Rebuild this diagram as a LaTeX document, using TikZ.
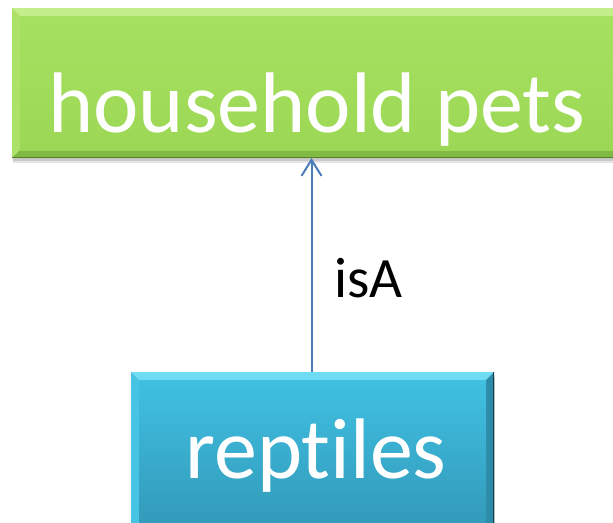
\documentclass[tikz,border=0pt]{standalone}
\usepackage{fontspec}
\setmainfont{Carlito}[Ligatures=NoCommon]
\usetikzlibrary{arrows.meta}
\definecolor{gIn1}{RGB}{166,224,96}
\definecolor{gIn2}{RGB}{156,216,86}
\definecolor{gTop}{RGB}{196,238,140}
\definecolor{gLeft}{RGB}{172,226,104}
\definecolor{gBot}{RGB}{128,186,66}
\definecolor{gRight}{RGB}{142,200,78}
\definecolor{bIn1}{RGB}{64,192,226}
\definecolor{bIn2}{RGB}{50,152,184}
\definecolor{bTop}{RGB}{110,220,242}
\definecolor{bLeft}{RGB}{70,196,228}
\definecolor{bBot}{RGB}{40,128,156}
\definecolor{bRight}{RGB}{46,140,170}
\definecolor{arrowblue}{RGB}{74,126,187}
\tikzset{
  bevelbox/.style n args={6}{
    inner sep=0pt, outer sep=0pt,
    preaction={fill=black, fill opacity=0.10, transform canvas={xshift=1pt,yshift=-5pt}},
    preaction={fill=black, fill opacity=0.12, transform canvas={xshift=0.5pt,yshift=-2.5pt}},
    path picture={
      \path (path picture bounding box.north west) coordinate (bnw)
            (path picture bounding box.north east) coordinate (bne)
            (path picture bounding box.south west) coordinate (bsw)
            (path picture bounding box.south east) coordinate (bse);
      \path ([shift={(8pt,-8pt)}]bnw) coordinate (inw)
            ([shift={(-8pt,-8pt)}]bne) coordinate (ine)
            ([shift={(8pt,8pt)}]bsw) coordinate (isw)
            ([shift={(-8pt,8pt)}]bse) coordinate (ise);
      \fill[#3] (bnw) -- (bne) -- (ine) -- (inw) -- cycle;
      \fill[#4] (bnw) -- (inw) -- (isw) -- (bsw) -- cycle;
      \fill[#5] (bsw) -- (isw) -- (ise) -- (bse) -- cycle;
      \fill[#6] (bne) -- (bse) -- (ise) -- (ine) -- cycle;
      \shade[top color=#1, bottom color=#2] (inw) rectangle (ise);
    }
  },
  bigtext/.style={text=white, font=\fontsize{86}{86}\selectfont, inner sep=0pt},
  reltext/.style={text=black, font=\fontsize{57}{57}\selectfont, inner sep=0pt},
  isa/.style={draw=arrowblue, line width=2pt, -{Straight Barb[length=16pt,width=20pt,line width=2pt]}}
}
\begin{document}
\begin{tikzpicture}[x=1pt,y=-1pt]
\useasboundingbox (0,0) rectangle (613,522);
\fill[white] (0,0) rectangle (613,522);
\node[bevelbox={gIn1}{gIn2}{gTop}{gLeft}{gBot}{gRight}, minimum width=610pt, minimum height=150pt] (pets) at (317,83) {};
\draw[gBot!70!black, line width=1pt] ([yshift=0.5pt]pets.south west) -- ([yshift=0.5pt]pets.south east);
\node[bevelbox={bIn1}{bIn2}{bTop}{bLeft}{bBot}{bRight}, minimum width=363pt, minimum height=168pt] (rep) at (312.5,456) {};
\draw[bRight!45!black, line width=1.5pt] ([xshift=-0.75pt]rep.north east) -- ([xshift=-0.75pt]rep.south east);
\node[bigtext, anchor=base] (petsT) at (317,132) {household pets};
\node[bigtext, anchor=base] (repT) at (316,478) {reptiles};
\draw[isa] ([xshift=-1pt]rep.north) -- ([xshift=-1pt]rep.north |- pets.south) node[pos=0.35, xshift=22pt, reltext, anchor=base west] (rel) {isA};
\end{tikzpicture}
\end{document}
